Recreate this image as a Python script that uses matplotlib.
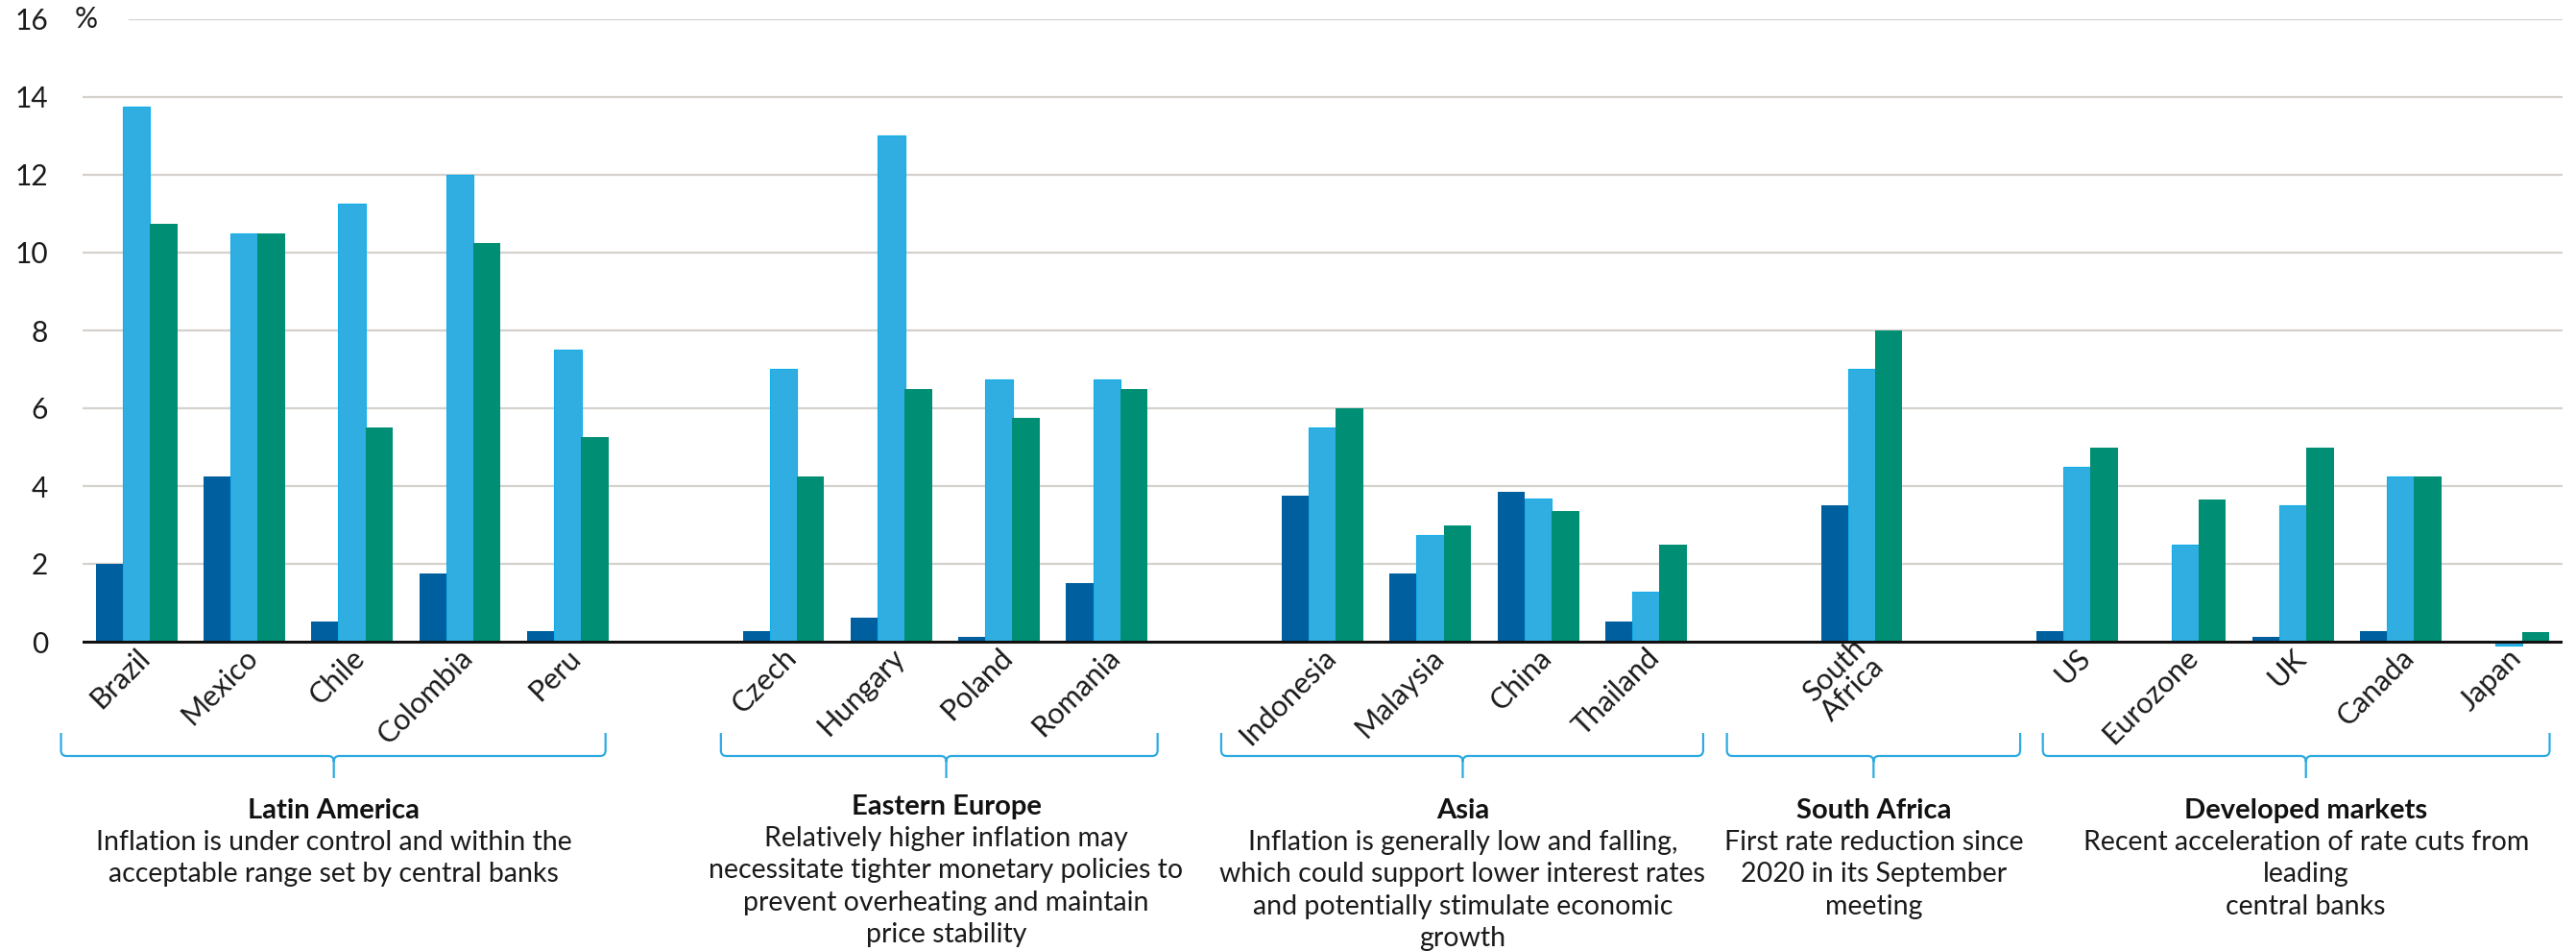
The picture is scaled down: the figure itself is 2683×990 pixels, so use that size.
import numpy as np
import matplotlib
matplotlib.use("Agg")
import matplotlib.pyplot as plt
import matplotlib.transforms as mtransforms
from matplotlib.path import Path
from matplotlib.patches import PathPatch

plt.rcParams['font.family'] = ['Lato', 'DejaVu Sans']

# data
groups = ['Latin America', 'Eastern Europe', 'Asia', 'South Africa', 'Developed markets']
countries = [['Brazil', 'Mexico', 'Chile', 'Colombia', 'Peru'],
             ['Czech', 'Hungary', 'Poland', 'Romania'],
             ['Indonesia', 'Malaysia', 'China', 'Thailand'],
             ['South\nAfrica'],
             ['US', 'Eurozone', 'UK', 'Canada', 'Japan']]
series_dark = [2.0, 4.25, 0.53, 1.76, 0.28,
               0.28, 0.62, 0.12, 1.51,
               3.75, 1.76, 3.86, 0.53,
               3.50,
               0.28, 0.0, 0.12, 0.28, -0.05]
series_light = [13.75, 10.5, 11.25, 12.0, 7.5,
                7.0, 13.0, 6.75, 6.75,
                5.5, 2.75, 3.67, 1.28,
                7.0,
                4.5, 2.5, 3.5, 4.25, -0.1]
series_green = [10.75, 10.5, 5.5, 10.25, 5.25,
                4.25, 6.5, 5.75, 6.5,
                6.0, 3.0, 3.36, 2.5,
                8.0,
                5.0, 3.65, 5.0, 4.25, 0.25]
notes = ["Inflation is under control and within the\nacceptable range set by central banks",
         "Relatively higher inflation may\nnecessitate tighter monetary policies to\nprevent overheating and maintain\nprice stability",
         "Inflation is generally low and falling,\nwhich could support lower interest rates\nand potentially stimulate economic\ngrowth",
         "First rate reduction since\n2020 in its September\nmeeting",
         "Recent acceleration of rate cuts from\nleading\ncentral banks"]
yticks = [0, 2, 4, 6, 8, 10, 12, 14, 16]

# layout
W, H = 2683, 990
C_DARK, C_LIGHT, C_GREEN = '#005F9E', '#31AEE1', '#008E74'
C_BRACE = '#2DAAE2'

# slot positions: one empty slot between groups
xpos, labels = [], []
slot = 0
for g in countries:
    for c in g:
        xpos.append(slot)
        labels.append(c)
        slot += 1
    slot += 1
xpos = np.array(xpos, dtype=float)

fig = plt.figure(figsize=(W / 100, H / 100), dpi=100)
ax_bottom_px, ax_top_px = 684.2, 20
ax = fig.add_axes([86 / W, 1 - ax_bottom_px / H, (2669 - 86) / W, (ax_bottom_px - ax_top_px) / H])
ax.set_xlim(-0.5, 22.5)
ax.set_ylim(-0.4, 16)

bw = 0.255
ax.bar(xpos - 0.25, series_dark, bw, color=C_DARK, zorder=2)
ax.bar(xpos, series_light, bw, color=C_LIGHT, edgecolor='#12AEEA', linewidth=0.8, zorder=2)
ax.bar(xpos + 0.25, series_green, bw, color=C_GREEN, zorder=2)

# gridlines + zero line
for v in yticks[1:]:
    xmin = (135 - 86) / (2669 - 86) if v == 16 else 0
    ax.axhline(v, xmin=xmin, color='#D5D1CD', lw=1.6, zorder=0)
ax.axhline(0, color='#111111', lw=2.2, zorder=3)

for s in ax.spines.values():
    s.set_visible(False)
ax.set_yticks(yticks)
ax.set_yticklabels([str(v) for v in yticks], fontsize=21.5, color='#1a1a1a')
ax.tick_params(axis='y', length=0, pad=26)
ax.set_xticks([])

tr_pct = mtransforms.blended_transform_factory(ax.transAxes, ax.transData)
ax.text(-8 / 2583, 16, '%', transform=tr_pct, ha='left', va='center',
        fontsize=21.5, color='#1a1a1a')

# category labels
tr_lab = mtransforms.blended_transform_factory(ax.transData, fig.transFigure)
for x, lab in zip(xpos, labels):
    ax.text(x + 0.08, 1 - 680 / H, lab, transform=tr_lab, rotation=45,
            rotation_mode='anchor', ha='right', va='center',
            multialignment='center', fontsize=22, color='#1a1a1a',
            linespacing=1.0, clip_on=False)

# group braces
brace_x = [(-0.70, 4.35, 1.83), (5.42, 9.47, 7.51), (10.06, 14.53, 12.30),
           (14.75, 17.47, 16.11), (17.68, 22.38, 20.12)]
title_dy = [0, -4, 0, 0, 0]
yt, yh, yb = 1 - 763 / H, 1 - 787 / H, 1 - 810 / H
rx, ry = 0.05, 6 / H
M, L, C3 = Path.MOVETO, Path.LINETO, Path.CURVE3
for (x0, x1, xm), g, note, dy in zip(brace_x, groups, notes, title_dy):
    verts = [(x0, yt), (x0, yh + ry), (x0, yh), (x0 + rx, yh), (xm - rx, yh),
             (xm, yh), (xm, yh - ry), (xm, yb),
             (xm, yh - ry), (xm, yh), (xm + rx, yh), (x1 - rx, yh),
             (x1, yh), (x1, yh + ry), (x1, yt)]
    codes = [M, L, C3, C3, L, C3, C3, L, M, C3, C3, L, C3, C3, L]
    fig.add_artist(PathPatch(Path(verts, codes), transform=tr_lab, fill=False,
                             edgecolor=C_BRACE, lw=1.6))
    fig.text(xm, 1 - (852 + dy) / H, g, transform=tr_lab, ha='center', va='baseline',
             fontsize=21, fontweight='bold', color='#111111')
    for i, line in enumerate(note.split('\n')):
        fig.text(xm, 1 - (885 + dy + 33.3 * i) / H, line, transform=tr_lab,
                 ha='center', va='baseline', fontsize=20.5, color='#1a1a1a')

fig.savefig('out.png', dpi=100, facecolor='white')
